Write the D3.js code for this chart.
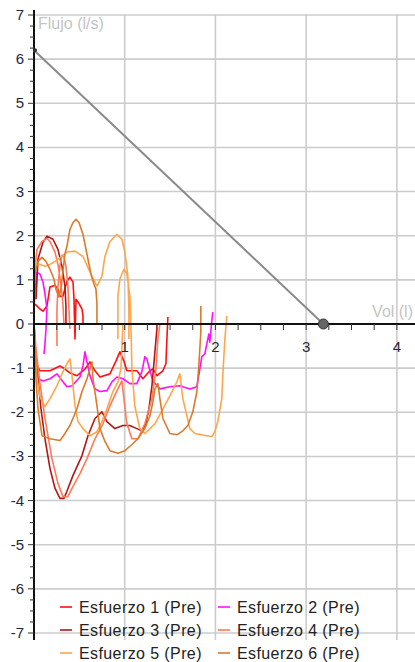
<!DOCTYPE html>
<html>
<head>
<meta charset="utf-8">
<script src="https://cdn.jsdelivr.net/npm/d3@7"></script>
<style>
  body { margin: 0; background: #fff; }
  svg { display: block; font-family: "Liberation Sans", Arial, sans-serif; }
</style>
</head>
<body>
<div id="chart"></div>
<script>
// data: [volumen (l), flujo (l/s)] — null separa tramos de la misma curva
const esfuerzo1 = [
  [0.011,0.45],[0.066,0.34],[0.099,0.29],[0.143,0.41],[0.176,0.84],[0.231,0.88],[0.264,0.79],[0.286,0.63],
  [0.319,0.63],[0.363,0.97],[0.396,1.06],[0.430,0.95],[0.441,0.56],[0.452,-0.34],[0.463,0.56],[0.485,0.50],
  [0.529,0.34],[0.540,0.18],[0.540,0],
  null,
  [0,0],[0.011,-0.45],[0.022,-0.90],[0.066,-1.06],[0.176,-1.06],[0.286,-0.95],[0.341,-1.02],[0.396,-1.11],
  [0.474,-1.17],[0.562,-1.02],[0.617,-0.86],[0.672,-1.06],[0.727,-1.20],[0.837,-1.13],[0.903,-0.84],
  [0.947,-0.63],[0.991,-0.84],[1.024,-1.06],[1.134,-1.06],[1.200,-1.24],[1.278,-1.06],[1.311,-1.02],
  [1.355,-1.17],[1.421,-1.06],[1.454,-0.90],[1.465,-0.34],[1.476,0.16]
];
const esfuerzo2 = [
  [0,0.34],[0.011,0.79],[0.033,1.17],[0.066,1.13],[0.099,0.95],[0.121,0.68],[0.143,0.34],[0.132,-0.11],
  [0.121,-0.45],[0.110,-0.68],
  null,
  [0,-0.23],[0.011,-0.79],[0.044,-1.24],[0.099,-1.29],[0.176,-1.24],[0.253,-1.13],[0.319,-1.31],[0.363,-1.42],
  [0.419,-1.40],[0.507,-1.20],[0.540,-0.95],[0.562,-0.63],[0.584,-0.86],[0.617,-1.17],[0.672,-1.47],
  [0.727,-1.53],[0.804,-1.51],[0.859,-1.31],[0.914,-1.20],[0.980,-1.24],[1.057,-1.35],[1.134,-1.35],
  [1.189,-1.08],[1.222,-0.74],[1.244,-0.79],[1.278,-1.06],[1.311,-1.29],[1.388,-1.47],[1.498,-1.42],
  [1.608,-1.40],[1.718,-1.47],[1.795,-1.42],[1.828,-1.02],[1.850,-0.74],[1.883,-0.68],[1.905,-0.45],
  [1.927,-0.23],[1.938,-0.41],[1.960,0.07],[1.971,0.27]
];
const esfuerzo3 = [
  [0.022,0.56],[0.044,1.47],[0.099,1.85],[0.143,1.99],[0.209,1.92],[0.264,1.69],[0.308,1.31],[0.341,0.86],
  [0.352,0.41],[0.352,0],
  null,
  [0,0],[0.011,-0.45],[0.044,-1.24],[0.077,-1.92],[0.121,-2.60],[0.176,-3.27],[0.231,-3.72],[0.286,-3.95],
  [0.330,-3.95],[0.363,-3.79],[0.430,-3.43],[0.529,-2.98],[0.595,-2.53],[0.672,-2.14],[0.749,-1.99],
  [0.804,-2.21],[0.892,-2.37],[0.980,-2.30],[1.057,-2.30],[1.134,-2.37],[1.189,-2.42],[1.233,-2.26],
  [1.267,-1.92],[1.300,-1.40],[1.333,-0.63],[1.355,-0.11],[1.355,0.02]
];
const esfuerzo4 = [
  [0.011,1.24],[0.033,1.69],[0.088,1.87],[0.143,1.94],[0.176,1.87],[0.231,1.63],[0.264,1.35],[0.297,0.90],
  [0.319,0.45],[0.330,0],
  null,
  [0.253,-0.50],[0.253,0.34],[0.264,0.84],[0.286,1.31],[0.308,1.56],[0.330,1.53],[0.352,1.31],[0.374,0.86],
  [0.385,0.34],[0.396,-0.11],
  null,
  [0,0],[0.022,-0.56],[0.066,-1.35],[0.121,-2.14],[0.198,-3.05],[0.264,-3.61],[0.319,-3.91],[0.374,-3.91],
  [0.430,-3.68],[0.507,-3.39],[0.584,-3.05],[0.672,-2.60],[0.760,-2.26],[0.837,-1.85],[0.925,-1.47],
  [0.969,-1.29],[0.991,-1.69],[1.024,-2.26],[1.079,-2.60],[1.145,-2.60],[1.222,-2.26],[1.300,-1.69],
  [1.344,-1.02],[1.366,-0.34],[1.388,0]
];
const esfuerzo5 = [
  [0,0.79],[0.011,1.40],[0.066,1.35],[0.121,1.31],[0.176,1.35],[0.231,1.42],[0.308,1.53],[0.363,1.63],
  [0.452,1.65],[0.540,1.53],[0.639,1.08],[0.694,0.86],[0.749,1.08],[0.782,1.53],[0.837,1.87],[0.914,2.03],
  [0.969,1.92],[1.002,1.63],[1.035,1.08],[1.046,0.34],[1.046,-0.34],
  null,
  [0,0],[0.011,-0.56],[0.033,-1.24],[0.066,-1.65],[0.121,-1.87],[0.176,-1.69],[0.253,-1.40],[0.319,-1.08],
  [0.374,-0.86],[0.396,-0.79],[0.419,-1.17],[0.452,-1.85],[0.485,-2.21],[0.540,-2.37],[0.617,-2.53],
  [0.694,-2.44],[0.749,-2.21],[0.804,-1.92],[0.870,-1.53],[0.925,-1.31],[0.958,-1.02],[0.969,-0.56],[0.980,0],
  null,
  [0.925,-0.34],[0.925,0.63],[0.947,1.02],[0.991,1.24],[1.024,1.13],[1.057,0.63],[1.068,0],
  [1.079,-1.02],[1.112,-1.87],[1.167,-2.37],[1.222,-2.48],[1.278,-2.37],[1.333,-2.26],[1.421,-1.92],
  [1.498,-1.63],[1.575,-1.31],[1.608,-1.13],[1.641,-1.69],[1.685,-2.08],[1.718,-2.37],[1.773,-2.48],
  [1.905,-2.53],[1.960,-2.55],[1.993,-2.44],[2.026,-2.21],[2.070,-1.69],[2.081,-1.17],[2.104,-0.34],[2.126,0.18]
];
const esfuerzo6 = [
  [0,0.56],[0.011,1.13],[0.044,1.42],[0.088,1.51],[0.132,1.42],[0.176,1.24],[0.220,1.02],[0.242,0.79],
  [0.275,0.61],[0.297,0.79],[0.319,1.20],[0.341,1.58],[0.363,1.76],[0.396,2.14],[0.430,2.30],[0.463,2.37],
  [0.496,2.30],[0.540,2.03],[0.584,1.58],[0.628,1.13],[0.661,0.90],[0.683,0.79],[0.694,0.45],[0.694,0],
  null,
  [0,0],[0.011,-0.45],[0.022,-1.24],[0.044,-1.92],[0.088,-2.53],[0.176,-2.60],[0.286,-2.64],[0.319,-2.55],
  [0.396,-2.30],[0.474,-1.92],[0.529,-1.53],[0.584,-1.24],[0.639,-0.86],[0.650,-1.24],[0.694,-1.85],
  [0.727,-2.37],[0.782,-2.66],[0.837,-2.87],[0.925,-2.93],[1.002,-2.87],[1.079,-2.73],[1.145,-2.60],
  [1.222,-2.37],[1.278,-2.08],[1.311,-1.76],[1.333,-1.47],[1.366,-1.35],[1.388,-1.69],[1.421,-2.14],
  [1.498,-2.48],[1.575,-2.51],[1.641,-2.42],[1.696,-2.30],[1.751,-1.99],[1.795,-1.54],[1.817,-0.95],
  [1.839,-0.18],[1.839,0.41]
];
const seriesNames = ['Esfuerzo 1 (Pre)','Esfuerzo 2 (Pre)','Esfuerzo 3 (Pre)','Esfuerzo 4 (Pre)','Esfuerzo 5 (Pre)','Esfuerzo 6 (Pre)'];
const seriesData = [esfuerzo1, esfuerzo2, esfuerzo3, esfuerzo4, esfuerzo5, esfuerzo6];
const seriesColors = ['#ff1010','#ff10ff','#b01818','#ff7a58','#ffa64c','#dc7a2a'];

// recta de referencia (predicho)
const refLine = [[0, 6.2], [3.19, 0]];

const xTicks = [1, 2, 3, 4];
const yTicks = d3.range(-7, 8);
const xTitle = 'Vol (l)';
const yTitle = 'Flujo (l/s)';

// dimensions
const WIDTH = 415;
const HEIGHT = 662;
const AXIS_BOTTOM = 640;

const x = d3.scaleLinear().domain([0, 4.2]).range([34, 415]);
const y = d3.scaleLinear().domain([-7, 7]).range([633, 15]);

const $svg = d3.select('#chart').append('svg')
  .attr('width', WIDTH)
  .attr('height', HEIGHT);

// grid
const $grid = $svg.append('g').attr('class', 'g-grid')
  .attr('stroke', '#cccccc').attr('stroke-width', 1.6);
$grid.selectAll('.h').data(yTicks.filter(d => d !== 0)).enter().append('line')
  .attr('x1', x(0)).attr('x2', WIDTH)
  .attr('y1', d => y(d)).attr('y2', d => y(d));
$grid.selectAll('.v').data(xTicks).enter().append('line')
  .attr('x1', d => x(d)).attr('x2', d => x(d))
  .attr('y1', y(7)).attr('y2', AXIS_BOTTOM);

// curves
const line = d3.line()
  .defined(d => d !== null)
  .x(d => x(d[0]))
  .y(d => y(d[1]));

const $vis = $svg.append('g').attr('class', 'g-vis');
$vis.selectAll('.curve').data(seriesData).enter().append('path')
  .attr('class', 'curve')
  .attr('d', d => line(d))
  .attr('fill', 'none')
  .attr('stroke', (d, i) => seriesColors[i])
  .attr('stroke-width', 1.6)
  .attr('stroke-linejoin', 'round');

// axes
const $axis = $svg.append('g').attr('class', 'g-axis');
$axis.append('line')
  .attr('x1', x(0)).attr('x2', WIDTH)
  .attr('y1', y(0)).attr('y2', y(0))
  .attr('stroke', '#111').attr('stroke-width', 2);
$axis.append('line')
  .attr('x1', x(0)).attr('x2', x(0))
  .attr('y1', 10).attr('y2', AXIS_BOTTOM)
  .attr('stroke', '#111').attr('stroke-width', 2);

const xMinor = d3.range(0.25, 4.2, 0.25);
$axis.selectAll('.xt').data(xMinor).enter().append('line')
  .attr('x1', d => x(d)).attr('x2', d => x(d))
  .attr('y1', y(0)).attr('y2', y(0) + 6)
  .attr('stroke', '#333').attr('stroke-width', 1);

const yMinor = d3.range(-7, 7.01, 0.25);
$axis.selectAll('.yt').data(yMinor).enter().append('line')
  .attr('x1', d => x(0) - (Number.isInteger(d) ? 6 : 4)).attr('x2', x(0))
  .attr('y1', d => y(d)).attr('y2', d => y(d))
  .attr('stroke', '#333').attr('stroke-width', 1);

$axis.selectAll('.yl').data(yTicks).enter().append('text')
  .attr('x', x(0) - 10)
  .attr('y', d => y(d) + 5)
  .attr('text-anchor', 'end')
  .attr('font-size', 15)
  .attr('fill', '#1e2640')
  .text(d => d);

$axis.selectAll('.xl').data(xTicks).enter().append('text')
  .attr('x', d => x(d))
  .attr('y', y(0) + 28)
  .attr('text-anchor', 'middle')
  .attr('font-size', 15)
  .attr('fill', '#1e2640')
  .text(d => d);

// reference line
$svg.append('path')
  .attr('d', d3.line().x(d => x(d[0])).y(d => y(d[1]))(refLine))
  .attr('fill', 'none')
  .attr('stroke', '#8a8a8a')
  .attr('stroke-width', 2);
$svg.append('circle')
  .attr('cx', x(refLine[1][0])).attr('cy', y(refLine[1][1]))
  .attr('r', 5)
  .attr('fill', '#666').attr('stroke', '#333').attr('stroke-width', 1);
$svg.append('circle')
  .attr('cx', x(refLine[0][0]) + 1).attr('cy', y(refLine[0][1]))
  .attr('r', 2)
  .attr('fill', '#333');

// axis titles
$svg.append('text')
  .attr('x', 38).attr('y', 29)
  .attr('font-size', 16).attr('fill', '#c4c4c4')
  .text(yTitle);
$svg.append('text')
  .attr('x', 413).attr('y', 317)
  .attr('text-anchor', 'end')
  .attr('font-size', 16).attr('fill', '#c4c4c4')
  .text(xTitle);

// legend
const $legend = $svg.append('g').attr('class', 'g-legend');
const $item = $legend.selectAll('.item').data(seriesNames).enter().append('g')
  .attr('transform', (d, i) => `translate(${i % 2 ? 218 : 60}, ${607 + Math.floor(i / 2) * 23})`);
$item.append('line')
  .attr('x1', 0).attr('x2', 12)
  .attr('stroke', (d, i) => seriesColors[i])
  .attr('stroke-width', 1.6);
$item.append('text')
  .attr('x', 19).attr('y', 6)
  .attr('font-size', 16)
  .attr('letter-spacing', 0.4)
  .attr('fill', '#222')
  .text(d => d);
</script>
</body>
</html>
